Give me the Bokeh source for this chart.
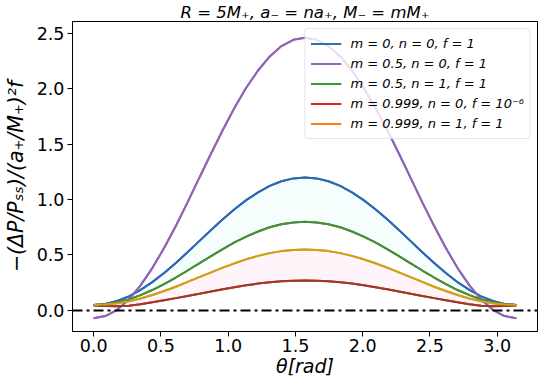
from bokeh.plotting import figure
from bokeh.models import Range1d, Span, Legend, LegendItem, ColumnDataSource, Title, FixedTicker, PrintfTickFormatter
from bokeh.embed import file_html
from bokeh.resources import INLINE

theta = [0.000, 0.087, 0.175, 0.262, 0.349, 0.436, 0.524, 0.611, 0.698, 0.785, 0.873, 0.960,
         1.047, 1.134, 1.222, 1.309, 1.396, 1.484, 1.571, 1.658, 1.745, 1.833, 1.920, 2.007,
         2.094, 2.182, 2.269, 2.356, 2.443, 2.531, 2.618, 2.705, 2.793, 2.880, 2.967, 3.054, 3.142]

m0_n0_f1 = [0.050, 0.059, 0.085, 0.127, 0.185, 0.255, 0.338, 0.428, 0.525, 0.625, 0.725, 0.822,
            0.913, 0.995, 1.065, 1.123, 1.165, 1.191, 1.200, 1.191, 1.165, 1.123, 1.065, 0.995,
            0.913, 0.822, 0.725, 0.625, 0.525, 0.428, 0.338, 0.255, 0.185, 0.127, 0.085, 0.059, 0.050]
m05_n0_f1 = [-0.070, -0.051, 0.006, 0.099, 0.226, 0.382, 0.563, 0.762, 0.975, 1.195, 1.415, 1.628,
             1.828, 2.008, 2.164, 2.291, 2.384, 2.441, 2.460, 2.441, 2.384, 2.291, 2.164, 2.008,
             1.828, 1.628, 1.415, 1.195, 0.975, 0.762, 0.563, 0.382, 0.226, 0.099, 0.006, -0.051, -0.070]
m05_n1_f1 = [0.050, 0.056, 0.073, 0.100, 0.138, 0.184, 0.238, 0.297, 0.360, 0.425, 0.490, 0.553,
             0.613, 0.666, 0.712, 0.750, 0.777, 0.794, 0.800, 0.794, 0.777, 0.750, 0.712, 0.666,
             0.613, 0.553, 0.490, 0.425, 0.360, 0.297, 0.238, 0.184, 0.138, 0.100, 0.073, 0.056, 0.050]
m0999_n0_f1e6 = [0.045, 0.040, 0.037, 0.042, 0.055, 0.073, 0.092, 0.111, 0.131, 0.150, 0.170, 0.191,
                 0.210, 0.227, 0.242, 0.254, 0.263, 0.268, 0.270, 0.268, 0.263, 0.254, 0.242, 0.227,
                 0.210, 0.191, 0.170, 0.150, 0.131, 0.111, 0.092, 0.073, 0.055, 0.042, 0.037, 0.040, 0.045]
m0999_n1_f1 = [0.050, 0.054, 0.065, 0.083, 0.108, 0.139, 0.175, 0.214, 0.257, 0.300, 0.343, 0.386,
               0.425, 0.461, 0.492, 0.517, 0.535, 0.546, 0.550, 0.546, 0.535, 0.517, 0.492, 0.461,
               0.425, 0.386, 0.343, 0.300, 0.257, 0.214, 0.175, 0.139, 0.108, 0.083, 0.065, 0.054, 0.050]

labels = ["m = 0, n = 0, f = 1", "m = 0.5, n = 0, f = 1", "m = 0.5, n = 1, f = 1",
          "m = 0.999, n = 0, f = 10\u207b\u2076", "m = 0.999, n = 1, f = 1"]
legend_colors = ["#1f77b4", "#9467bd", "#2ca02c", "#d62728", "#ff7f0e"]
line_colors = ["#2d68b0", "#8e63b8", "#4e8a3c", "#9b3b25", "#c9a31a"]
cols = ["a", "b", "c", "d", "e"]

FONT = "DejaVu Sans"

p = figure(width=542, height=381, output_backend="svg", toolbar_location=None,
           x_range=Range1d(-0.157, 3.299), y_range=Range1d(-0.19, 2.606),
           min_border_left=63, min_border_right=5, min_border_top=14, min_border_bottom=50)
p.title = Title(text="R = 5M\u208a, a\u208b = na\u208a, M\u208b = mM\u208a", align="center",
                text_font=FONT, text_font_size="16.5px", text_font_style="italic",
                standoff=0, text_color="#000000")
p.xgrid.visible = False
p.ygrid.visible = False
p.outline_line_color = "#000000"
p.outline_line_width = 1
p.background_fill_color = "white"
p.border_fill_color = "white"

src = ColumnDataSource(dict(x=theta, a=m0_n0_f1, b=m05_n0_f1, c=m05_n1_f1, d=m0999_n0_f1e6, e=m0999_n1_f1))

# faint bands
p.varea(x="x", y1="c", y2="a", source=src, fill_color="#ccf5f5", fill_alpha=0.2)
p.varea(x="x", y1="d", y2="e", source=src, fill_color="#fbd3ec", fill_alpha=0.25)

zero = Span(location=0, dimension="width", line_color="black", line_width=2, line_dash="10 4 3 4")
p.add_layout(zero)

items = []
for col, lab, c in zip(cols, labels, legend_colors):
    r = p.line(x="x", y=col, source=src, line_color=c, line_width=2)
    items.append(LegendItem(label=lab, renderers=[r]))
for col, lc in zip(cols, line_colors):
    p.line(x="x", y=col, source=src, line_color=lc, line_width=2)

legend = Legend(items=items, location="top_right", margin=7, padding=5, spacing=1,
                label_text_font=FONT, label_text_font_size="13px", label_text_font_style="italic",
                label_text_color="black",
                label_height=19, glyph_height=19, glyph_width=31, label_standoff=9,
                border_line_color="#cccccc", border_line_width=1, border_radius=3,
                background_fill_alpha=0.8)
p.add_layout(legend)

p.xaxis.ticker = FixedTicker(ticks=[0.0, 0.5, 1.0, 1.5, 2.0, 2.5, 3.0])
p.yaxis.ticker = FixedTicker(ticks=[0.0, 0.5, 1.0, 1.5, 2.0, 2.5])
p.xaxis.formatter = PrintfTickFormatter(format="%.1f")
p.yaxis.formatter = PrintfTickFormatter(format="%.1f")
for ax in (p.xaxis[0], p.yaxis[0]):
    ax.major_label_text_font = FONT
    ax.major_label_text_font_size = "17.5px"
    ax.major_label_text_color = "black"
    ax.axis_label_text_font = FONT
    ax.axis_label_text_font_style = "italic"
    ax.axis_label_text_color = "black"
    ax.minor_tick_line_color = None
    ax.major_tick_out = 5
    ax.major_tick_in = 0
    ax.axis_line_color = "black"
    ax.major_tick_line_color = "black"
    ax.major_label_standoff = 3
p.xaxis.major_label_standoff = 2
p.xaxis.axis_label_text_font_size = "19px"
p.yaxis.axis_label_text_font_size = "20.5px"
p.xaxis.axis_label = "\u03b8[rad]"
p.yaxis.axis_label = "\u2212(\u0394P/P\u209b\u209b)/(a\u208a/M\u208a)\u00b2f"
p.xaxis.axis_label_standoff = 0
p.yaxis.axis_label_standoff = 6

open("out.html", "w").write(file_html(p, INLINE))
